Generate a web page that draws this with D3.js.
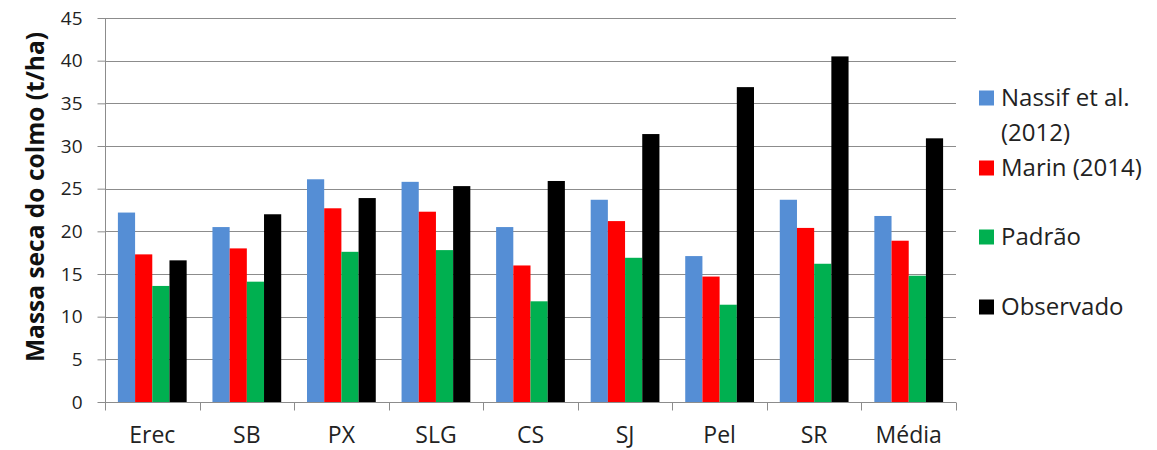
<!DOCTYPE html>
<html><head><meta charset="utf-8">
<script src="https://cdn.jsdelivr.net/npm/d3@7"></script>
<style>body{margin:0;background:#fff;} svg{display:block;}</style>
</head><body><svg id="c" width="1157" height="450"></svg>
<script>
const categories = ["Erec","SB","PX","SLG","CS","SJ","Pel","SR","Média"];
const seriesNames = ["Nassif et al. (2012)","Marin (2014)","Padrão","Observado"];
const nassif    = [22.2,20.5,26.1,25.8,20.5,23.7,17.1,23.7,21.8];
const marin     = [17.3,18.0,22.7,22.3,16.0,21.2,14.7,20.4,18.9];
const padrao    = [13.6,14.1,17.6,17.8,11.8,16.9,11.4,16.2,14.8];
const observado = [16.6,22.0,23.9,25.3,25.9,31.4,36.9,40.5,30.9];
const yTicks = [0,5,10,15,20,25,30,35,40,45];
const colors = ["#558ED5","#FF0000","#00B050","#000000"];
const series = [nassif, marin, padrao, observado];

(function(){
const svg = d3.select("#c");
const font = "'Open Sans', 'Liberation Sans', sans-serif";
const pL = 105, pR = 956, pT = 18, pB = 402;
const x = d3.scaleBand().domain(categories).range([pL, pR]).paddingInner(0).paddingOuter(0);
const bw = x.bandwidth() / 5.5;
const x1 = d3.scaleBand().domain(d3.range(4)).range([0.75*bw, 0.75*bw + 4*bw]);
const y = d3.scaleLinear().domain([0,45]).range([pB, pT]);

// gridlines
svg.append("g").selectAll("line").data(yTicks.filter(d=>d>0)).join("line")
  .attr("x1", pL).attr("x2", pR).attr("y1", d=>Math.round(y(d))+0.5).attr("y2", d=>Math.round(y(d))+0.5)
  .attr("stroke", "#8c8c8c").attr("stroke-width", 1);

// bars
const g = svg.append("g");
categories.forEach((c, i) => {
  series.forEach((s, j) => {
    g.append("rect")
      .attr("x", x(c) + x1(j)).attr("width", x1.bandwidth())
      .attr("y", y(s[i])).attr("height", y(0) - y(s[i]))
      .attr("fill", colors[j]);
  });
});

// y axis
const ya = svg.append("g").attr("transform", `translate(${pL+0.5},0)`)
  .call(d3.axisLeft(y).tickValues(yTicks).tickSize(8).tickPadding(15));
ya.select(".domain").attr("stroke", "#8c8c8c").attr("d", `M0,${pT}V${pB}`);
ya.selectAll(".tick line").attr("stroke", "#8c8c8c");
ya.selectAll("text").attr("font-family", font).attr("font-size", 19).attr("fill", "#222");

// x axis
const xa = svg.append("g").attr("transform", `translate(0,${pB+0.5})`)
  .call(d3.axisBottom(x).tickSize(0));
xa.select(".domain").attr("stroke", "#8c8c8c").attr("d", `M${pL},0H${pR}`);
xa.selectAll("text").attr("y", 40).attr("dy", null)
  .attr("font-family", font).attr("font-size", 23).attr("fill", "#222");
const bounds = categories.map(c => x(c)).concat([pR]);
xa.append("g").selectAll("line").data(bounds).join("line")
  .attr("x1", d=>Math.round(d)+0.5).attr("x2", d=>Math.round(d)+0.5).attr("y1", 0).attr("y2", 8)
  .attr("stroke", "#8c8c8c");

// y title
svg.append("text").attr("transform", `translate(44,197) rotate(-90)`)
  .attr("text-anchor", "middle").attr("font-family", font).attr("font-weight", "bold")
  .attr("font-size", 24.5).attr("fill", "#111").text("Massa seca do colmo (t/ha)");

// legend
const legendItems = [
  {lines:["Nassif et al.","(2012)"], y:98},
  {lines:["Marin (2014)"], y:168},
  {lines:["Padrão"], y:237},
  {lines:["Observado"], y:307}
];
legendItems.forEach((it, i) => {
  svg.append("rect").attr("x", 979).attr("y", it.y - 7.5).attr("width", 15).attr("height", 15).attr("fill", colors[i]);
  it.lines.forEach((l, k) => {
    svg.append("text").attr("x", 1001).attr("y", it.y + k*35).attr("dy", "0.35em")
      .attr("font-family", font).attr("font-size", 24).attr("fill", "#222").text(l);
  });
});
})();
</script></body></html>
